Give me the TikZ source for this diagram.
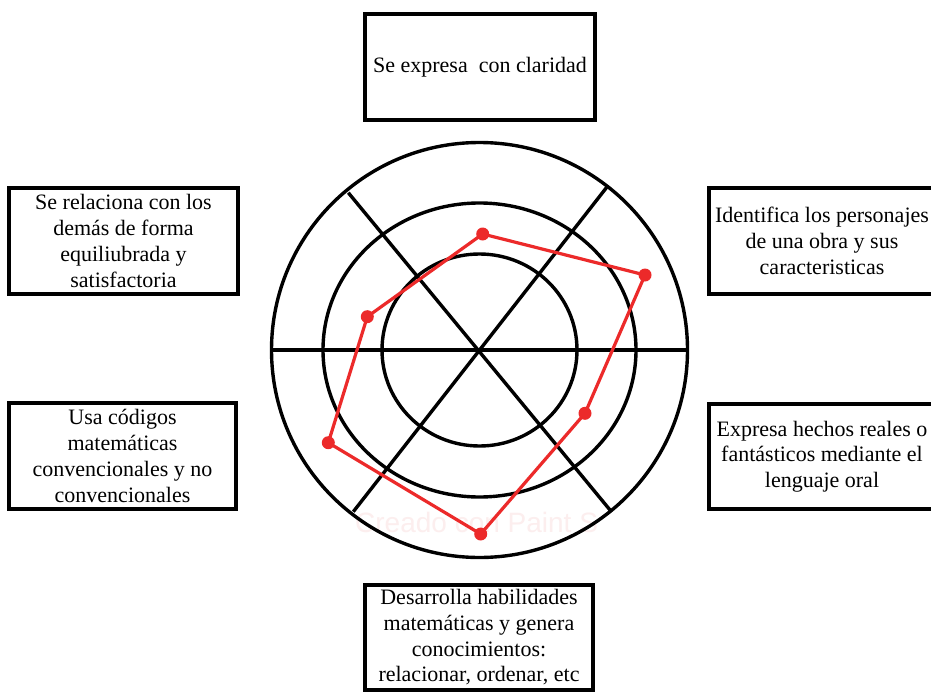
\documentclass[tikz,border=0pt]{standalone}
\usepackage{fontspec}
\setmainfont{Liberation Serif}
\newfontfamily\wmfont{Liberation Sans}
\definecolor{scorered}{RGB}{236,42,42}
\definecolor{wmpink}{RGB}{252,238,238}
\begin{document}
\begin{tikzpicture}[x=1pt,y=-1pt,
  box/.style={draw, line width=4pt, inner sep=0pt, align=center,
    font=\fontsize{22}{25.7}\selectfont},
  ring/.style={line width=3.4pt},
  spoke/.style={line width=3.4pt},
  scoreline/.style={draw=scorered, line width=3.2pt, line join=round},
  scoredot/.style={circle, fill=scorered, inner sep=0pt, minimum size=13pt}]
\path[use as bounding box, clip] (0,0) rectangle (931,693);
\fill[white] (0,0) rectangle (931,693);

% watermark
\node[anchor=base west, inner sep=0pt, text=wmpink, font=\wmfont\fontsize{28}{30}\selectfont]
  (wm) at (355,532) {Creado con Paint S};

% chart
\coordinate (c) at (479.5,350);
\draw[ring] (c) ellipse [x radius=208, y radius=207.5];
\draw[ring] (c) ellipse [x radius=156.5, y radius=147];
\draw[ring] (c) ellipse [x radius=97.5, y radius=96];
\coordinate (hl) at (271.5,350);
\coordinate (hr) at (687.5,350);
\coordinate (d1a) at (348.3,192.7);
\coordinate (d1b) at (610,510);
\coordinate (d2a) at (606.7,187.3);
\coordinate (d2b) at (353.3,511.7);
\draw[spoke] (hl) -- (hr);
\draw[spoke] (d1a) -- (d1b);
\draw[spoke] (d2a) -- (d2b);

% scores
\node[scoredot] (p1) at (482.7,234) {};
\node[scoredot] (p2) at (645,275) {};
\node[scoredot] (p3) at (585,413.3) {};
\node[scoredot] (p4) at (480.7,534) {};
\node[scoredot] (p5) at (328.3,442.7) {};
\node[scoredot] (p6) at (367.3,316.7) {};
\draw[scoreline] (p1.center) -- (p2.center) -- (p3.center) -- (p4.center)
  -- (p5.center) -- (p6.center) -- cycle;

% boxes
\node[box, minimum width=230pt, minimum height=106pt] (top) at (480,67)
  {Se expresa\ \ con claridad};
\node[box, minimum width=229pt, minimum height=106pt] (lt) at (123.5,241)
  {Se relaciona con los\\demás de forma\\equiliubrada y\\satisfactoria};
\node[box, minimum width=226pt, minimum height=105.5pt] (rt) at (822,241)
  {Identifica los personajes\\de una obra y sus\\caracteristicas};
\node[box, minimum width=227pt, minimum height=105.5pt] (lb) at (122.5,456)
  {Usa códigos\\matemáticas\\convencionales y no\\convencionales};
\node[box, minimum width=226pt, minimum height=105pt] (rb) at (822,456.5)
  {Expresa hechos reales o\\fantásticos mediante el\\lenguaje oral};
\node[box, minimum width=228pt, minimum height=105pt] (bot) at (479,637.5)
  {Desarrolla habilidades\\matemáticas y genera\\conocimientos:\\relacionar, ordenar, etc};
\end{tikzpicture}
\end{document}
